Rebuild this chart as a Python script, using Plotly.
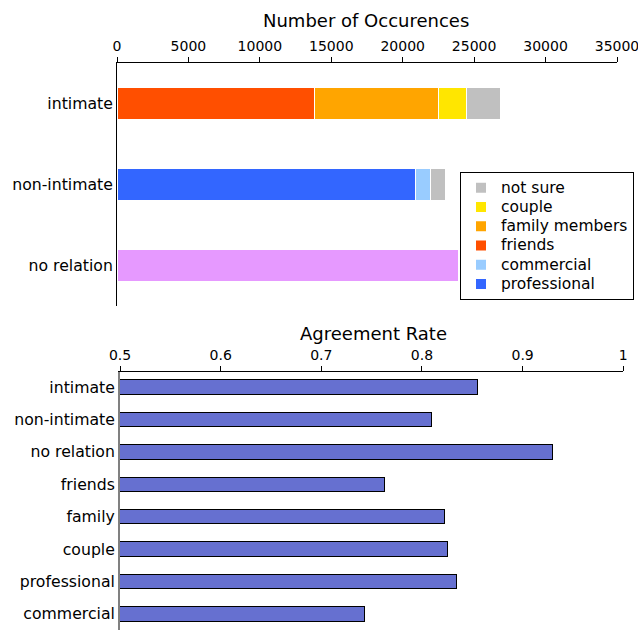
import plotly.graph_objects as go

# ---- data ----
top_categories = ["intimate", "non-intimate", "no relation"]
intimate_parts = {"friends": 13800, "family members": 8730, "couple": 1910, "not sure": 2410}
nonintimate_parts = {"professional": 20920, "commercial": 1050, "not sure": 1030}
norelation_value = 23930

bottom_categories = ["intimate", "non-intimate", "no relation", "friends",
                     "family", "couple", "professional", "commercial"]
agreement_rates = [0.855, 0.809, 0.930, 0.763, 0.8225, 0.8255, 0.834, 0.743]

top_ticks = [0, 5000, 10000, 15000, 20000, 25000, 30000, 35000]
bottom_ticks = [0.5, 0.6, 0.7, 0.8, 0.9, 1.0]
bottom_ticklabels = ["0.5", "0.6", "0.7", "0.8", "0.9", "1"]

colors = {
    "professional": "#3366FF",
    "commercial": "#99CCFF",
    "friends": "#FF4F00",
    "family members": "#FFA500",
    "couple": "#FFE600",
    "not sure": "#C0C0C0",
    "no relation": "#E699FF",
}

FONT = "DejaVu Sans"
fig = go.Figure()


def legend_label(name):
    return f'<span style="font-size:15.5px">{name}</span>'


series = [
    ("professional", [("non-intimate", nonintimate_parts["professional"])]),
    ("commercial", [("non-intimate", nonintimate_parts["commercial"])]),
    ("friends", [("intimate", intimate_parts["friends"])]),
    ("family members", [("intimate", intimate_parts["family members"])]),
    ("couple", [("intimate", intimate_parts["couple"])]),
    ("not sure", [("intimate", intimate_parts["not sure"]),
                  ("non-intimate", nonintimate_parts["not sure"])]),
]
for name, pts in series:
    fig.add_trace(go.Bar(
        x=[v for _, v in pts], y=[c for c, _ in pts], orientation="h",
        name=legend_label(name),
        marker=dict(color=colors[name], line=dict(color="white", width=1)),
        width=0.4, xaxis="x", yaxis="y", showlegend=True))

fig.add_trace(go.Bar(
    x=[norelation_value], y=["no relation"], orientation="h", name="no relation",
    marker=dict(color=colors["no relation"], line=dict(color="white", width=1)),
    width=0.4, xaxis="x", yaxis="y", showlegend=False))

fig.add_trace(go.Bar(
    x=agreement_rates, y=bottom_categories, orientation="h",
    marker=dict(color="#6670D0", line=dict(color="black", width=1)),
    width=0.45, xaxis="x2", yaxis="y2", showlegend=False))

W, H = 638, 630
fig.update_layout(
    width=W, height=H,
    margin=dict(l=0, r=0, t=0, b=0, autoexpand=False),
    paper_bgcolor="white", plot_bgcolor="white",
    barmode="stack",
    font=dict(family=FONT, size=14, color="black"),
    xaxis=dict(domain=[117 / W, 617 / W], anchor="y", side="top", automargin=False,
               range=[0, 35000], tickvals=top_ticks, ticktext=[str(t) for t in top_ticks],
               showgrid=False, zeroline=False, showline=True, linecolor="black", linewidth=1,
               ticks="outside", ticklen=5, tickcolor="black", ticklabeloverflow="allow",
               tickfont=dict(size=14, family=FONT)),
    yaxis=dict(domain=[(H - 306) / H, (H - 63) / H], anchor="x", automargin=False,
               categoryorder="array", categoryarray=top_categories,
               range=[2.5, -0.5], showgrid=False, zeroline=False,
               showline=True, linecolor="black", linewidth=1, ticks="",
               ticklabelstandoff=0, tickfont=dict(size=15.7, family=FONT)),
    xaxis2=dict(domain=[120 / W, 623.3 / W], anchor="y2", side="top", automargin=False,
                range=[0.5, 1.0], tickvals=bottom_ticks, ticktext=bottom_ticklabels,
                showgrid=False, zeroline=False, showline=True, linecolor="black", linewidth=1,
                ticks="outside", ticklen=5, tickcolor="black", ticklabeloverflow="allow",
                tickfont=dict(size=14, family=FONT)),
    yaxis2=dict(domain=[0, (H - 372) / H], anchor="x2", automargin=False,
                categoryorder="array", categoryarray=bottom_categories,
                range=[7.5, -0.47], showgrid=False, zeroline=False,
                showline=True, linecolor="#808080", linewidth=2, ticks="",
                ticklabelstandoff=0, tickfont=dict(size=15.7, family=FONT)),
    legend=dict(x=460 / W, y=(H - 172) / H, xanchor="left", yanchor="top",
                traceorder="reversed", bordercolor="black", borderwidth=1,
                bgcolor="white", font=dict(size=12.5, family=FONT),
                itemsizing="constant", tracegroupgap=0, itemwidth=30),
    annotations=[
        dict(text="Number of Occurences", x=366 / W, y=(H - 20) / H, xref="paper", yref="paper",
             showarrow=False, font=dict(size=18, family=FONT), xanchor="center", yanchor="middle"),
        dict(text="Agreement Rate", x=374 / W, y=(H - 333) / H, xref="paper", yref="paper",
             showarrow=False, font=dict(size=18, family=FONT), xanchor="center", yanchor="middle"),
    ],
)

fig.write_html(
    "out.html",
    config={"displayModeBar": False},
    post_script="document.body.style.margin='0';document.body.style.overflow='hidden';",
)
